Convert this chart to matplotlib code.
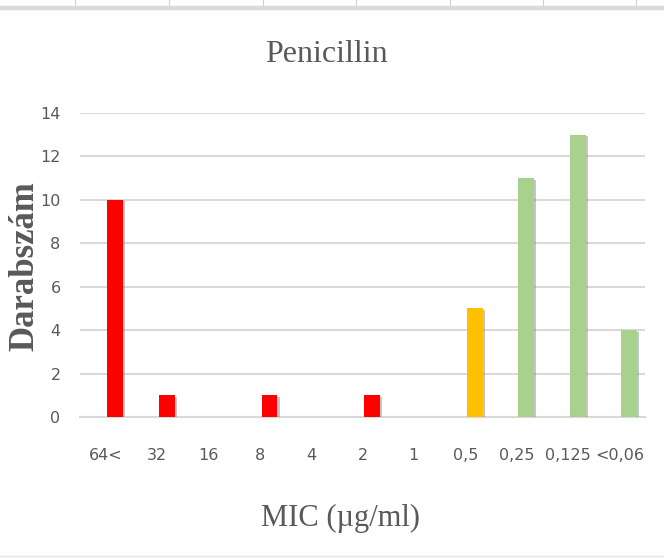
import matplotlib
matplotlib.use("Agg")
import matplotlib.pyplot as plt
import matplotlib.patheffects as pe
from matplotlib.lines import Line2D
import numpy as np

# MIC categories and counts
mic_labels = ["64<", "32", "16", "8", "4", "2", "1", "0,5", "0,25", "0,125", "<0,06"]
counts = [10, 1, 0, 1, 0, 1, 0, 5, 11, 13, 4]
groups = ["R", "R", "R", "R", "R", "R", "R", "I", "S", "S", "S"]
group_colors = {"R": "#FF0000", "I": "#FFC000", "S": "#A9D18E"}
y_ticks = [0, 2, 4, 6, 8, 10, 12, 14]

title = "Penicillin"
x_title = "MIC (\u00b5g/ml)"
y_title = "Darabsz\u00e1m"

grey = "#595959"
grid_c = "#D9D9D9"
tick_font = ["DejaVu Sans Condensed", "DejaVu Sans"]

fig = plt.figure(figsize=(6.64, 5.58), dpi=100)
ax = fig.add_axes([80 / 664, 1 - 417 / 558, 565 / 664, 304 / 558])

x = np.arange(len(mic_labels))
colors = [group_colors[g] for g in groups]
bars = ax.bar(x + 0.19, counts, width=0.31, color=colors, zorder=3)
for b in bars:
    b.set_path_effects([pe.SimplePatchShadow(offset=(1.5, -1.0), shadow_rgbFace="#808080", alpha=0.45),
                        pe.Normal()])

ax.set_xlim(-0.5, len(mic_labels) - 0.5)
ax.set_ylim(0, 14)
ax.set_yticks(y_ticks)
ax.set_xticks(x)
ax.set_xticklabels(mic_labels)
ax.grid(axis="y", color=grid_c, linewidth=1.5, zorder=0)
ax.set_axisbelow(True)
for s in ["top", "right", "left"]:
    ax.spines[s].set_visible(False)
ax.spines["bottom"].set_color(grid_c)
ax.spines["bottom"].set_linewidth(1.5)
ax.tick_params(axis="both", length=0, colors=grey, labelsize=11.5)
ax.tick_params(axis="y", pad=14)
ax.tick_params(axis="x", pad=22)
for lab in ax.get_xticklabels() + ax.get_yticklabels():
    lab.set_family(tick_font)

fig.text(326 / 664, 1 - 55 / 558, title, ha="center", va="center",
         family="Liberation Serif", fontsize=23, color=grey)
fig.text(341 / 664, 1 - 518 / 558, x_title, ha="center", va="center",
         family="Liberation Serif", fontsize=22, color=grey)
fig.text(25 / 664, 1 - 266 / 558, y_title, ha="center", va="center", rotation=90,
         family="Liberation Serif", fontweight="bold", fontsize=25, color=grey)

# spreadsheet frame around the chart
for xc in [75, 169, 263, 356, 450, 543, 636]:
    fig.add_artist(Line2D([xc / 664, xc / 664], [1, 1 - 6 / 558], color="#D0D0D0", linewidth=0.8))
fig.add_artist(Line2D([0, 1], [1 - 8 / 558, 1 - 8 / 558], color="#DADADA", linewidth=3.2))
fig.add_artist(Line2D([0, 1], [1 - 556 / 558, 1 - 556 / 558], color="#E6E6E6", linewidth=1.0))

fig.savefig("out.png", dpi=100)
